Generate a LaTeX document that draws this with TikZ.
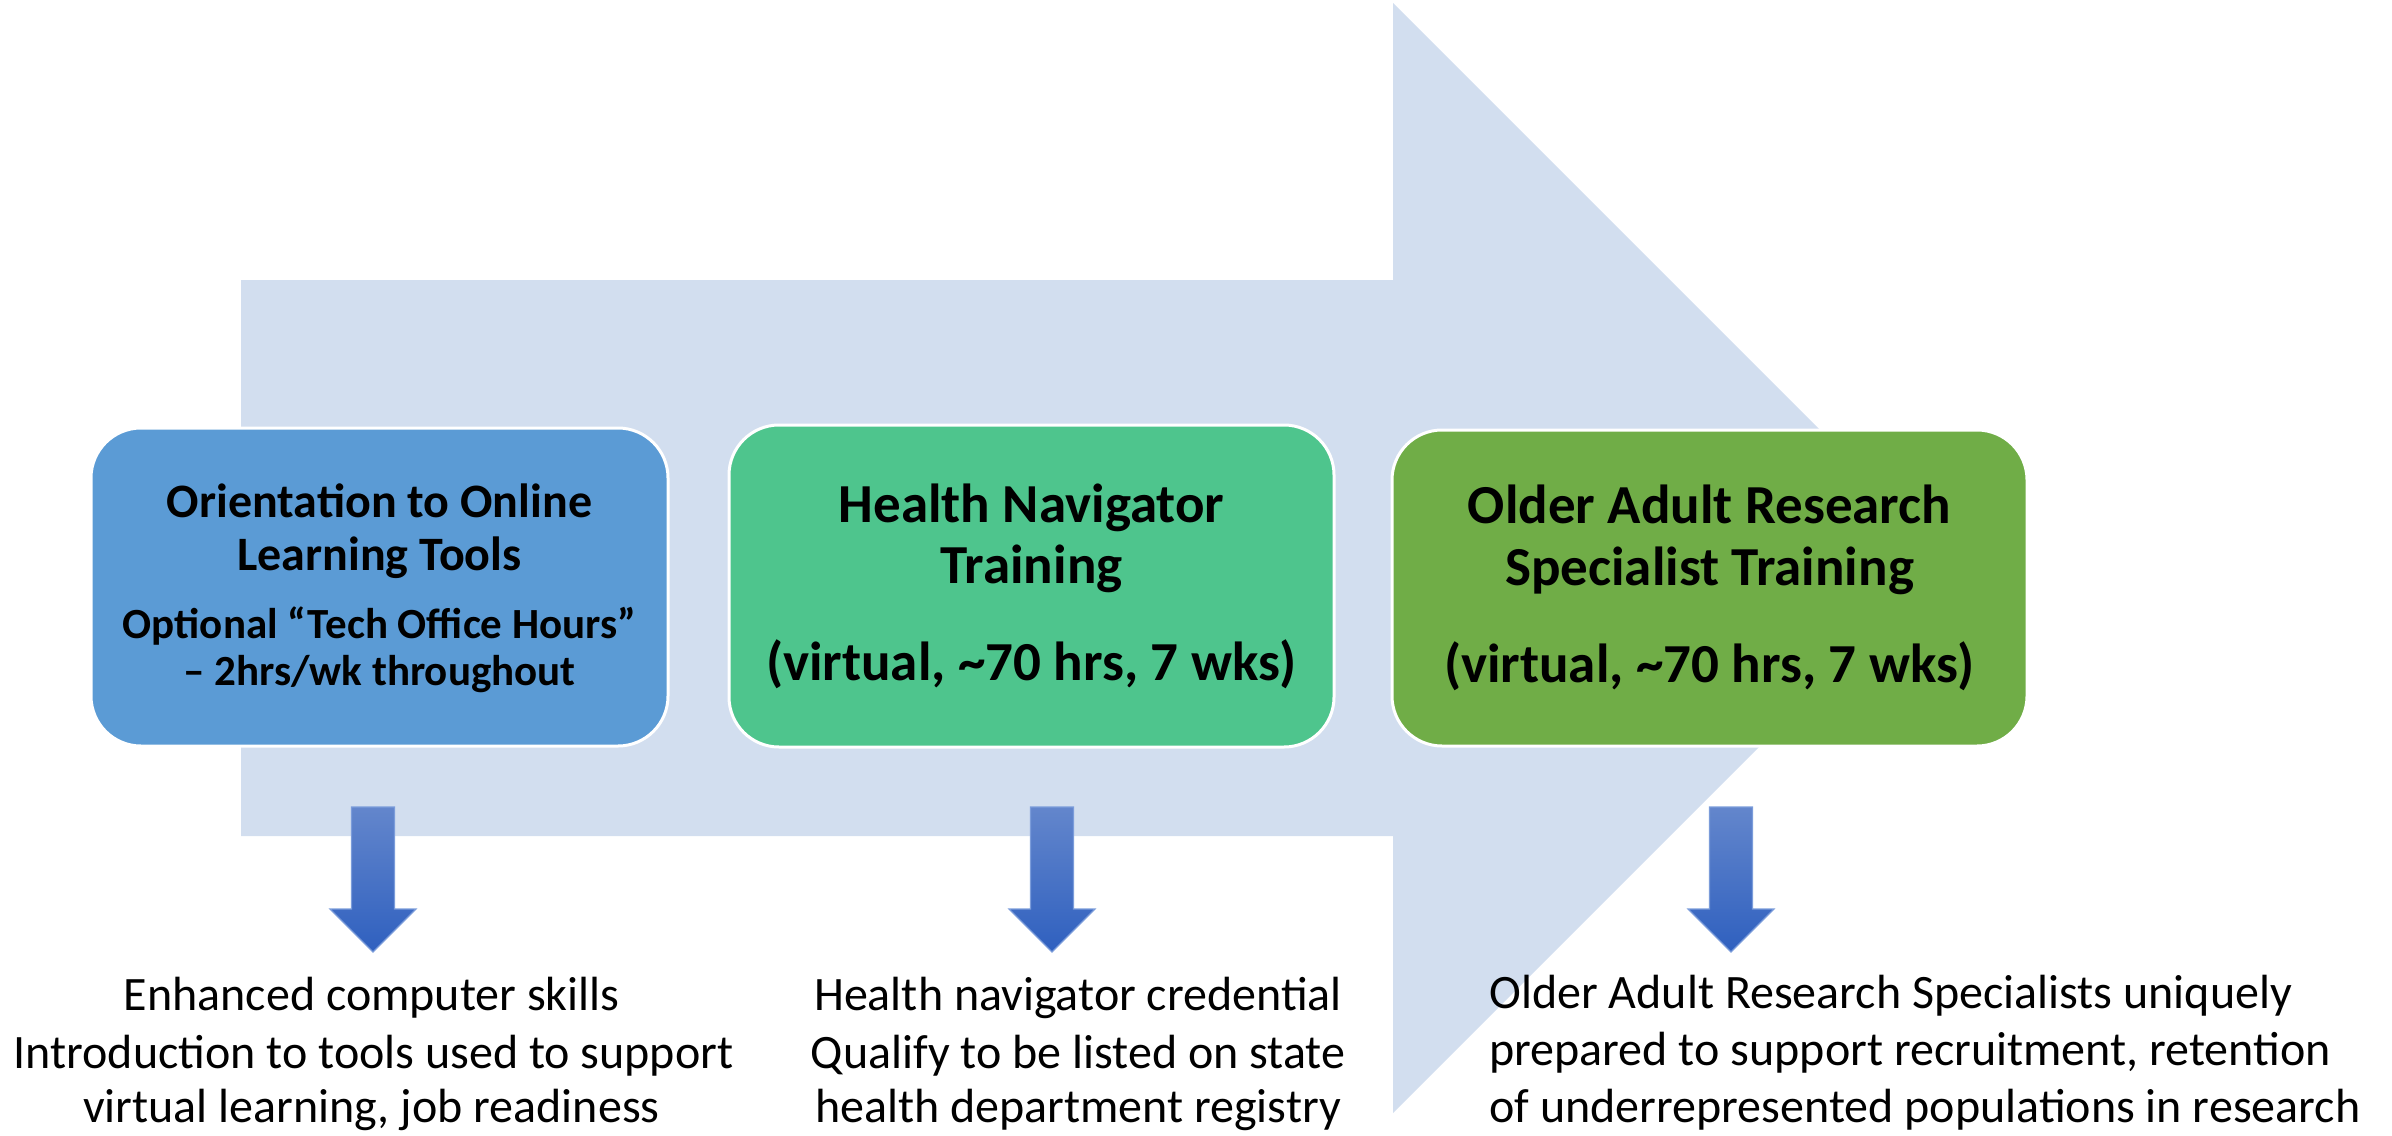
\documentclass[tikz,border=0pt]{standalone}
\usepackage{fontspec}
\setmainfont{Carlito}
\usetikzlibrary{calc}
\definecolor{flowbg}{HTML}{D2DEEF}
\definecolor{stageblue}{HTML}{5B9BD5}
\definecolor{stageteal}{HTML}{4EC58D}
\definecolor{stagegreen}{HTML}{70AD47}
\definecolor{dntop}{HTML}{6386CC}
\definecolor{dnbot}{HTML}{2F60BF}
\definecolor{dnedge}{HTML}{7B9CDA}
\begin{document}
\begin{tikzpicture}[x=0.5pt,y=-0.5pt,
  stagebox/.style={draw=white, line width=1.5pt, rounded corners=25pt, inner sep=0pt},
  headA/.style={inner sep=0pt, anchor=base, font=\fontsize{24}{28}\selectfont\bfseries},
  headAsub/.style={inner sep=0pt, anchor=base, font=\fontsize{21.5}{26}\selectfont\bfseries},
  headB/.style={inner sep=0pt, anchor=base, font=\fontsize{27.5}{32}\selectfont\bfseries},
  outc/.style={inner sep=0pt, anchor=base, font=\fontsize{24}{28}\selectfont},
  outr/.style={inner sep=0pt, anchor=base east, font=\fontsize{24}{28}\selectfont},
  outl/.style={inner sep=0pt, anchor=base west, font=\fontsize{24}{28}\selectfont},
  dnarrow/.pic={
    \draw[dnedge, line width=0.6pt, top color=dntop, bottom color=dnbot]
      (-21.5,0) -- (21.5,0) -- (21.5,102) -- (43,102) -- (0,145)
      -- (-43,102) -- (-21.5,102) -- cycle;
  }]
\useasboundingbox (0,0) rectangle (2392,1135);

% large background arrow
\fill[flowbg] (241,280) -- (1393,280) -- (1393,3) -- (1948,558)
  -- (1393,1113) -- (1393,836) -- (241,836) -- cycle;

% stage boxes
\node[stagebox, fill=stageblue, minimum width=288.5pt, minimum height=159pt] (box1) at (379.5,587) {};
\node[stagebox, fill=stageteal, minimum width=302.5pt, minimum height=161pt] (box2) at (1031.5,586) {};
\node[stagebox, fill=stagegreen, minimum width=317.5pt, minimum height=158pt] (box3) at (1709.5,588) {};

% stage texts
\node[headA] (t1a) at (379.5,517) {Orientation to Online};
\node[headA] (t1b) at (379.5,570) {Learning Tools};
\node[headAsub] (t1c) at (379.5,638) {Optional “Tech Office Hours”};
\node[headAsub] (t1d) at (379.5,685) {– 2hrs/wk throughout};

\node[headB] (t2a) at (1031.5,522) {Health Navigator};
\node[headB] (t2b) at (1031.5,583) {Training};
\node[headB] (t2c) at (1031.5,680) {(virtual, \textasciitilde70 hrs, 7 wks)};

\node[headB] (t3a) at (1709.5,523) {Older Adult Research};
\node[headB] (t3b) at (1709.5,585) {Specialist Training};
\node[headB] (t3c) at (1709.5,682) {(virtual, \textasciitilde70 hrs, 7 wks)};

% down arrows
\pic at (373,807) {dnarrow};
\pic at (1052,807) {dnarrow};
\pic at (1731,807) {dnarrow};

% outcomes
\node[outr] (o1a) at (620,1010) {Enhanced computer skills};
\node[outr] (o1b) at (734,1068) {Introduction to tools used to support};
\node[outr] (o1c) at (660,1122) {virtual learning, job readiness};

\node[outc] (o2a) at (1078,1010) {Health navigator credential};
\node[outc] (o2b) at (1078,1068) {Qualify to be listed on state};
\node[outc] (o2c) at (1078,1122) {health department registry};

\node[outl] (o3a) at (1489,1008) {Older Adult Research Specialists uniquely};
\node[outl] (o3b) at (1489,1065) {prepared to support recruitment, retention};
\node[outl] (o3c) at (1489,1122) {of underrepresented populations in research};
\end{tikzpicture}
\end{document}
